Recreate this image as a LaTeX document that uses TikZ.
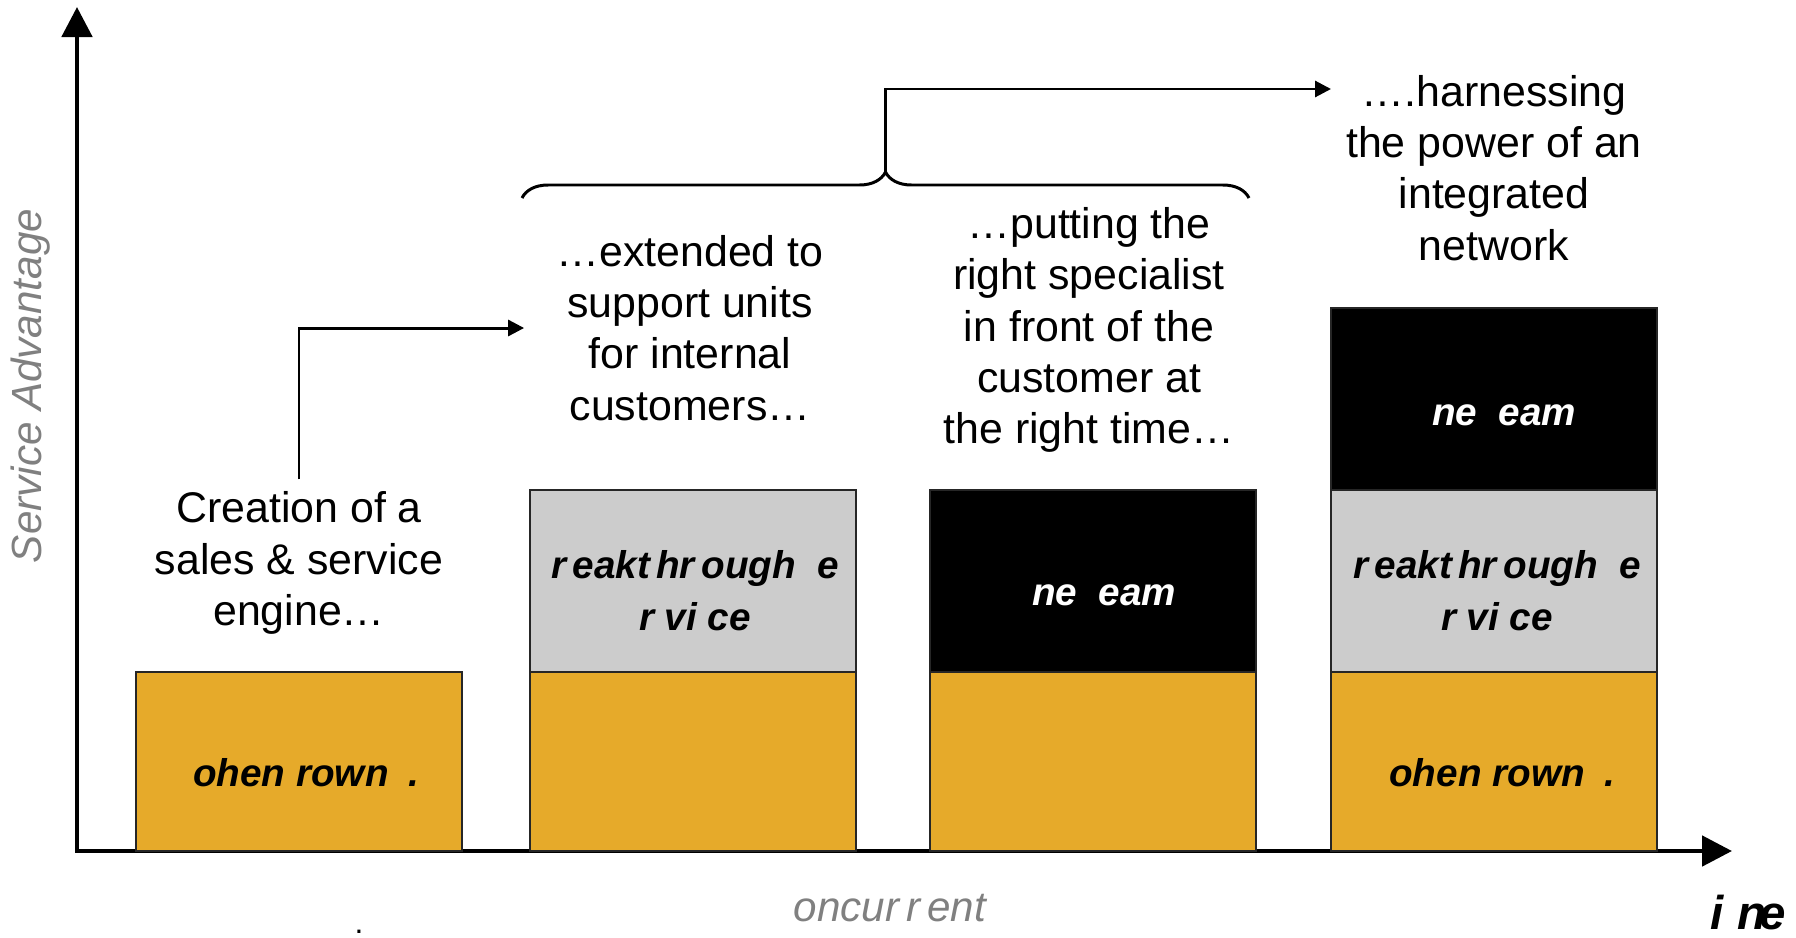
\documentclass[tikz,border=0pt]{standalone}
\usepackage{fontspec}
\setmainfont{Liberation Sans}
\usetikzlibrary{positioning, arrows.meta, calc, decorations.pathreplacing}
\definecolor{barorange}{RGB}{230,170,42}
\definecolor{bargray}{RGB}{204,204,204}
\definecolor{axisgray}{RGB}{128,128,128}

\begin{document}
\begin{tikzpicture}[
    axis/.style={line width=1.4pt, {Triangle[length=0.3cm, width=0.3cm]}-{Triangle[length=0.3cm, width=0.3cm]}},
    link/.style={line width=0.85pt, -{Triangle[length=0.16cm, width=0.16cm]}},
    bar/.style={draw=black!85, line width=0.6pt, minimum width=3.26cm, inner sep=0pt, outer sep=0pt, anchor=south west},
    orangebar/.style={bar, fill=barorange, minimum height=1.79cm},
    graybar/.style={bar, fill=bargray, minimum height=1.82cm},
    blackbar/.style={bar, fill=black, minimum height=1.82cm},
    barlabel/.style={font=\fontsize{11}{14.8}\selectfont\bfseries\itshape, align=center},
    note/.style={font=\fontsize{12.2}{14.6}\selectfont, align=center},
    axislabel/.style={font=\fontsize{12}{14}\selectfont\itshape, text=axisgray}
]
    \useasboundingbox (-0.77,-0.86) rectangle (17.19,8.51);

    % Axes
    \coordinate (o) at (0,0);
    \coordinate (ytop) at (0,8.44);
    \coordinate (xend) at (16.55,0);
    \draw[axis] (ytop) -- (o) -- (xend);

    % Axis labels
    \node[axislabel, rotate=90] (yname) at (-0.46,4.65) {Service Advantage};
    \node[axislabel] (xname) at (8.13,-0.57) {oncur\,r\,ent};
    \node[font=\fontsize{13.5}{15}\selectfont\bfseries\itshape, inner sep=0pt] (tname) at (16.71,-0.62) {i n\kern-2pt e};
    \node[font=\fontsize{9}{9}\selectfont, inner sep=0pt] (dot) at (2.82,-0.81) {.};

    % Bars
    \node[orangebar] (o1) at (0.59,0) {};
    \node[orangebar] (o2) at (4.53,0) {};
    \node[graybar] (g2) at (o2.north west) {};
    \node[orangebar] (o3) at (8.53,0) {};
    \node[blackbar] (k3) at (o3.north west) {};
    \node[orangebar] (o4) at (12.54,0) {};
    \node[graybar] (g4) at (o4.north west) {};
    \node[blackbar] (k4) at (g4.north west) {};

    % Bar labels
    \node[barlabel] (t1) at (2.29,0.78) {ohen rown\enspace.};
    \node[barlabel] (t2) at (6.18,2.6) {r\,eakt\,hr\,ough\ \ e\\r vi ce};
    \node[barlabel, text=white] (t3) at (10.27,2.56) {ne\ \ eam};
    \node[barlabel, text=white] (t4) at (14.27,4.36) {ne\ \ eam};
    \node[barlabel] (t5) at (14.2,2.6) {r\,eakt\,hr\,ough\ \ e\\r vi ce};
    \node[barlabel] (t6) at (14.25,0.78) {ohen rown\enspace.};

    % Notes
    \node[note] (create) at (2.22,2.88) {Creation of a\\sales \& service\\engine…};
    \node[note] (ext) at (6.13,5.23) {…extended to\\support units\\for internal\\customers…};
    \node[note] (put) at (10.12,5.21) {…putting the\\right specialist\\in front of the\\customer at\\the right time…};
    \node[note] (harness) at (14.17,6.83) {….harnessing\\the power of an\\integrated\\network};

    % Connectors
    \draw[link] (create.north) |- ([xshift=-0.2cm]ext.west);
    \coordinate (bl) at (4.45,6.53);
    \coordinate (br) at (11.72,6.53);
    \draw[line width=0.85pt, decorate, decoration={brace, amplitude=0.26cm}] (bl) -- (br);
    \coordinate (btip) at ($(bl)!0.5!(br)+(0,0.26)$);
    \coordinate (htop) at (12.54,7.62);
    \draw[link] (btip) |- (htop);
\end{tikzpicture}
\end{document}
